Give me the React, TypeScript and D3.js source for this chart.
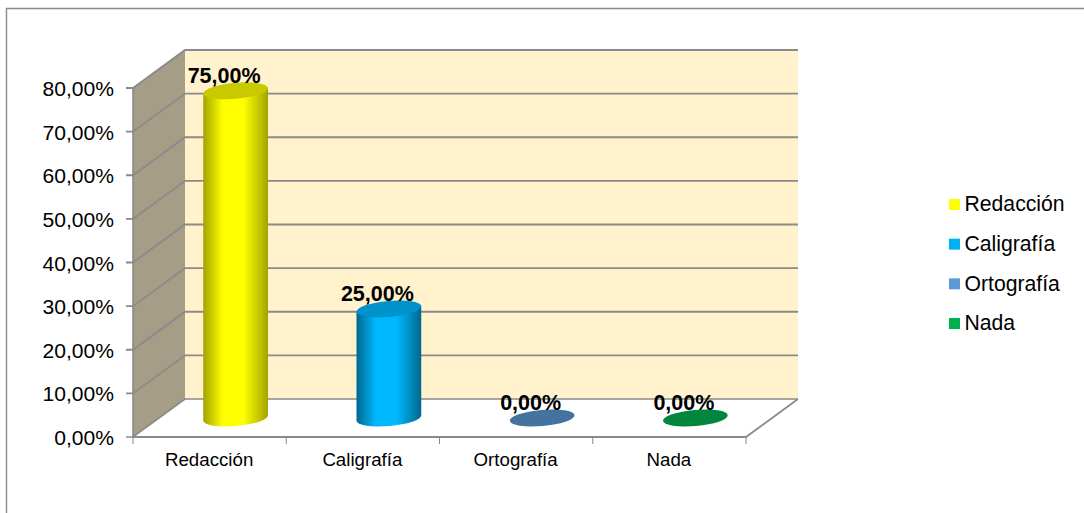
import React from "react";
import * as d3 from "d3";

const categories = ["Redacción", "Caligrafía", "Ortografía", "Nada"];
const values = [75, 25, 0, 0];
const tickValues = [0, 10, 20, 30, 40, 50, 60, 70, 80];
const sideColors = ["#ffff00", "#00b8ff", "#4f81bd", "#00923f"];
const edgeColors = ["#a3a300", "#00678f", "#30567a", "#005f29"];
const capColors = ["#c9c900", "#0092cb", "#44739f", "#00873c"];
const legendColors = ["#ffff00", "#00b0f0", "#5b9bd5", "#00b050"];

const fmt = (v: number) => v.toFixed(2).replace(".", ",") + "%";
const FONT = "'Liberation Sans', Arial, sans-serif";
const GRID = "#8a8a8a";

export default function App() {
  const x = d3.scaleBand<string>().domain(categories).range([133, 746]);
  const y = d3.scaleLinear().domain([0, 80]).range([437, 88]);
  const depthX = 52;
  const depthY = 38;
  const rx = 32.5;
  const ry = 8;
  const tilt = 5;
  const t = (tilt * Math.PI) / 180;
  const dx = rx * Math.cos(t);
  const dy = rx * Math.sin(t);
  const legendY = d3.scalePoint<string>().domain(categories).range([204.5, 323.5]);

  return (
    <svg width={1084} height={513} style={{ position: "absolute", left: 0, top: 0, display: "block", background: "#fff" }}>
      <defs>
        {categories.map((c, i) => (
          <linearGradient key={c} id={`cyl${i}`} x1="0" x2="1" y1="0" y2="0">
            <stop offset="0" stopColor={edgeColors[i]} />
            <stop offset="0.3" stopColor={sideColors[i]} />
            <stop offset="0.62" stopColor={sideColors[i]} />
            <stop offset="1" stopColor={edgeColors[i]} />
          </linearGradient>
        ))}
        <filter id="soft" x="-5%" y="-5%" width="110%" height="110%">
          <feGaussianBlur stdDeviation="0.35" />
        </filter>
      </defs>

      <path d="M6.5 513 V8.5 H1084" fill="none" stroke="#8c8c8c" strokeWidth={1.4} />

      <rect x={133 + depthX} y={y(80) - depthY} width={613} height={y(0) - y(80)} fill="#fff2cc" />
      <path
        d={`M133 ${y(0)} L133 ${y(80)} L${133 + depthX} ${y(80) - depthY} L${133 + depthX} ${y(0) - depthY} Z`}
        fill="#a59d85"
      />

      {tickValues.map((v) => (
        <g key={v}>
          <path
            d={`M126 ${y(v)} H133 L${133 + depthX} ${y(v) - depthY} H${746 + depthX}`}
            fill="none"
            stroke={GRID}
            strokeWidth={v === 0 ? 1.6 : 1.8}
          />
          <text x={114} y={y(v) + 8} textAnchor="end" fontFamily={FONT} fontSize={21.1} fill="#000">
            {fmt(v)}
          </text>
        </g>
      ))}

      <line x1={133} x2={133} y1={y(80)} y2={y(0)} stroke={GRID} strokeWidth={1.6} />
      <path
        d={`M133 ${y(0)} H746 L${746 + depthX} ${y(0) - depthY}`}
        fill="none"
        stroke={GRID}
        strokeWidth={1.8}
      />
      {[...categories.map((c) => x(c) as number), 746].map((px) => (
        <line key={px} x1={px} x2={px} y1={y(0)} y2={y(0) + 7} stroke={GRID} strokeWidth={1} />
      ))}

      {categories.map((c, i) => {
        const cx = (x(c) as number) + x.bandwidth() / 2 + depthX / 2;
        const base = y(0) - depthY / 2;
        const top = y(values[i]) - depthY / 2;
        const body = `M${cx - dx} ${top + dy} L${cx - dx} ${base + dy} A${rx} ${ry} ${-tilt} 0 0 ${cx + dx} ${base - dy} L${cx + dx} ${top - dy} Z`;
        return (
          <g key={c} filter="url(#soft)">
            {values[i] > 0 && <path d={body} fill={`url(#cyl${i})`} />}
            <ellipse
              cx={cx}
              cy={top}
              rx={rx}
              ry={ry}
              fill={capColors[i]}
              transform={`rotate(${-tilt} ${cx} ${top})`}
            />
          </g>
        );
      })}

      {categories.map((c, i) => {
        const cx = (x(c) as number) + x.bandwidth() / 2 + depthX / 2;
        const top = y(values[i]) - depthY / 2;
        return (
          <text
            key={c}
            x={cx - 11.5}
            y={top - 8}
            textAnchor="middle"
            fontFamily={FONT}
            fontWeight="bold"
            fontSize={21.5}
            fill="#000"
          >
            {fmt(values[i])}
          </text>
        );
      })}

      {categories.map((c) => (
        <text
          key={c}
          x={(x(c) as number) + x.bandwidth() / 2 - 0.5}
          y={466}
          textAnchor="middle"
          fontFamily={FONT}
          fontSize={18.7}
          fill="#000"
        >
          {c}
        </text>
      ))}

      {categories.map((c, i) => (
        <g key={c}>
          <rect x={949} y={(legendY(c) as number) - 5.5} width={11} height={11} fill={legendColors[i]} />
          <text x={964.5} y={(legendY(c) as number) + 6.8} fontFamily={FONT} fontSize={21.2} fill="#000">
            {c}
          </text>
        </g>
      ))}
    </svg>
  );
}
